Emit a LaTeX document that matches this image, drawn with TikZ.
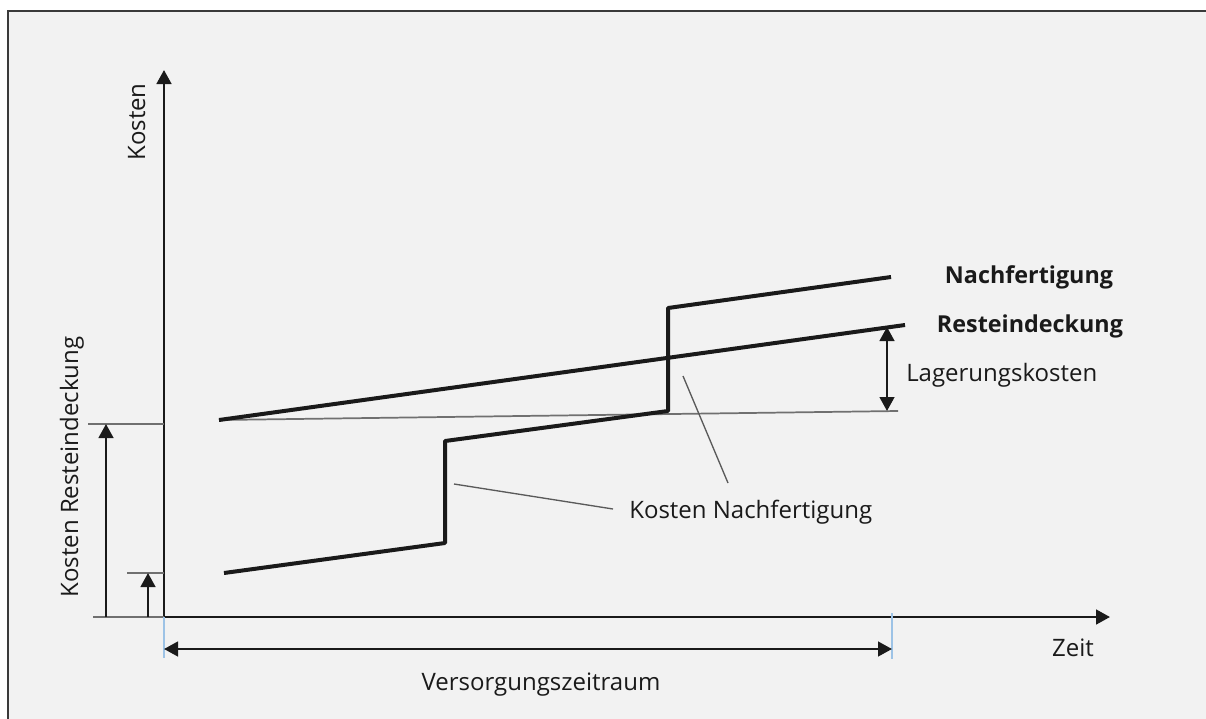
\documentclass[tikz,border=0pt]{standalone}
\usepackage{fontspec}
\setmainfont{Open Sans}
\usetikzlibrary{arrows.meta}
\definecolor{paper}{HTML}{F2F2F2}
\definecolor{framegray}{HTML}{3A3A3A}
\definecolor{ink}{HTML}{1A1A1A}
\definecolor{tickblue}{HTML}{9DC3E6}
\definecolor{guide}{HTML}{707070}
\begin{document}
\begin{tikzpicture}[x=0.75pt,y=-0.75pt,
  tip/.style={-{Triangle[length=10.5pt,width=11pt]}},
  axis/.style={tip,draw=ink,line width=2pt},
  dimarrow/.style={tip,draw=ink,line width=1.8pt},
  dimboth/.style={{Triangle[length=10.5pt,width=11pt]}-{Triangle[length=10.5pt,width=11pt]},draw=ink,line width=1.8pt},
  curve/.style={draw=ink,line width=3pt,line join=round},
  guideline/.style={draw=guide,line width=1.3pt},
  leader/.style={draw=guide!80!black,line width=1pt},
  marker/.style={draw=tickblue,line width=1.3pt},
  lbl/.style={text=ink,font=\fontsize{18}{21}\selectfont,inner sep=0pt},
  boldlbl/.style={lbl,font=\fontsize{17.5}{21}\selectfont\bfseries}]
\useasboundingbox (0,0) rectangle (1206,718);
\fill[white] (0,0) rectangle (1206,718);
\filldraw[fill=paper,draw=framegray,line width=2.2pt] (8,11) rectangle (1230,740);

% axes
\coordinate (O) at (164,617);
\coordinate (ytop) at (164,70);
\coordinate (xend) at (1110,617);
\draw[axis] (O) -- (ytop);
\draw[axis] (O) -- (xend);

% axis labels
\node[lbl,rotate=90,anchor=base] (kosten) at (145,122) {Kosten};
\node[lbl,rotate=90,anchor=base] (kre) at (78,467) {Kosten Resteindeckung};
\node[lbl,anchor=base] (zeit) at (1073,656) {Zeit};
\node[lbl,anchor=base] (vz) at (541,690) {Versorgungszeitraum};

% cost levels at the y axis
\coordinate (bigL) at (88,424);
\coordinate (bigR) at (164,424);
\coordinate (smallL) at (127,573);
\coordinate (smallR) at (164,573);
\coordinate (baseL) at (93,617);
\draw[guideline] (bigL) -- (bigR);
\draw[guideline] (smallL) -- (smallR);
\draw[guideline] (baseL) -- (O);
\coordinate (bigA0) at (106,617);
\coordinate (bigA1) at (106,424);
\coordinate (smallA0) at (148,617);
\coordinate (smallA1) at (148,573);
\draw[dimarrow] (bigA0) -- (bigA1);
\draw[dimarrow] (smallA0) -- (smallA1);

% supply period
\coordinate (p0) at (164,617);
\coordinate (p0b) at (164,658);
\coordinate (p1) at (892,613);
\coordinate (p1b) at (892,659);
\draw[marker] (p0) -- (p0b);
\draw[marker] (p1) -- (p1b);
\coordinate (pa0) at (164,649);
\coordinate (pa1) at (892,649);
\draw[dimboth] (pa0) -- (pa1);

% Resteindeckung cost line and storage costs
\coordinate (r0) at (219,420);
\coordinate (r1) at (905,325);
\coordinate (g1) at (898,411);
\draw[guideline] (r0) -- (g1);
\draw[curve] (r0) -- (r1);
\coordinate (la0) at (887,411);
\coordinate (la1) at (887,327);
\draw[dimboth] (la0) -- (la1);
\node[lbl,anchor=base west] (lager) at (906,381) {Lagerungskosten};

% Nachfertigung cost steps
\coordinate (n0) at (224,573);
\coordinate (n1) at (445,543);
\coordinate (n2) at (445,441);
\coordinate (n3) at (668,411);
\coordinate (n4) at (668,308);
\coordinate (n5) at (891,277);
\draw[curve] (n0) -- (n1) -- (n2) -- (n3) -- (n4) -- (n5);

% curve names
\node[boldlbl,anchor=base] (nach) at (1029,283) {Nachfertigung};
\node[boldlbl,anchor=base] (rest) at (1030,332) {Resteindeckung};

% annotation for the production costs
\node[lbl,anchor=base west] (kn) at (629,518) {Kosten Nachfertigung};
\coordinate (k0) at (454,484);
\coordinate (k1) at (613,509);
\coordinate (k2) at (683,376);
\coordinate (k3) at (728,483);
\draw[leader] (k0) -- (k1);
\draw[leader] (k2) -- (k3);
\end{tikzpicture}
\end{document}
